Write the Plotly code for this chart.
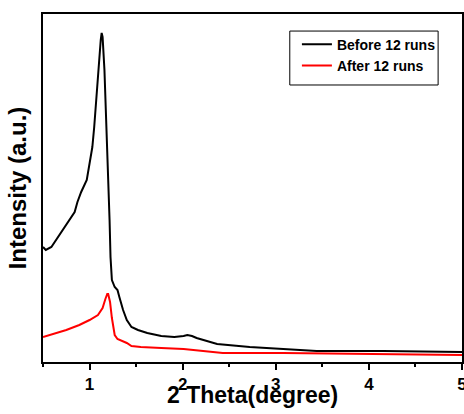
import plotly.graph_objects as go

# Black curve: before 12 runs
before_x = [0.50, 0.53, 0.59, 0.64, 0.70, 0.75, 0.80, 0.84, 0.87, 0.91, 0.97, 1.00, 1.03, 1.05,
            1.07, 1.10, 1.12, 1.13, 1.14, 1.16, 1.18, 1.20, 1.215, 1.225, 1.24, 1.27, 1.30,
            1.32, 1.36, 1.40, 1.45, 1.52, 1.62, 1.77, 1.91, 2.01, 2.05, 2.10, 2.15, 2.37,
            2.72, 3.08, 3.44, 4.15, 5.00]
before_y = [115, 112, 115, 122, 130, 137, 145, 150, 160, 170, 182, 199, 215, 235,
            262, 292, 322, 329, 325, 292, 242, 192, 142, 105, 82, 75, 72,
            65, 52, 42, 35, 32, 29, 26, 25, 26, 27, 26, 24, 18,
            15, 13, 11, 11, 10]

# Red curve: after 12 runs
after_x = [0.50, 0.60, 0.75, 0.89, 1.00, 1.09, 1.14, 1.17, 1.19, 1.20, 1.22, 1.24, 1.27,
           1.30, 1.35, 1.40, 1.45, 1.55, 1.77, 2.01, 2.22, 2.43, 3.08, 3.80, 5.00]
after_y = [25, 28, 32, 37, 42, 47, 54, 63, 68, 68, 60, 44, 27,
           23, 21, 19, 16, 15, 14, 13, 11, 9, 9, 8, 7]

names = ["Before 12 runs", "After 12 runs"]
colors = ["#000000", "#ff0000"]
x_title = "2 Theta(degree)"
y_title = "Intensity (a.u.)"

fig = go.Figure()
fig.add_trace(go.Scatter(x=before_x, y=before_y, mode="lines", name=names[0],
                         line=dict(color=colors[0], width=2)))
fig.add_trace(go.Scatter(x=after_x, y=after_y, mode="lines", name=names[1],
                         line=dict(color=colors[1], width=2)))

font_family = "Liberation Sans, Arial, sans-serif"

fig.update_layout(
    width=464, height=414,
    margin=dict(l=43, r=2, t=14, b=52, autoexpand=False),
    paper_bgcolor="white", plot_bgcolor="white",
    showlegend=True,
    legend=dict(x=0.606, y=0.958, xanchor="left", yanchor="top",
                bgcolor="rgba(0,0,0,0)", borderwidth=0,
                font=dict(family=font_family, size=14, color="black", weight="bold"),
                tracegroupgap=0, itemwidth=30),
    shapes=[dict(type="rect", xref="paper", yref="paper",
                 x0=0.589, x1=0.943, y0=0.796, y1=0.951,
                 line=dict(color="black", width=1), fillcolor="rgba(0,0,0,0)")],
    annotations=[dict(text=x_title, xref="paper", yref="paper", x=0.5, y=-0.095,
                      xanchor="center", yanchor="middle", showarrow=False,
                      font=dict(family=font_family, size=23, color="black", weight="bold"))],
)

fig.update_xaxes(
    range=[0.5, 5], tick0=1, dtick=1, automargin=False,
    showline=True, linecolor="black", linewidth=2, mirror=True,
    ticks="outside", ticklen=6, tickwidth=2, tickcolor="black",
    minor=dict(ticks="outside", ticklen=3, tickwidth=2, tickcolor="black", dtick=0.5, tick0=0.5),
    showgrid=False, zeroline=False, ticklabeloverflow="allow",
    tickfont=dict(family=font_family, size=17, color="black", weight="bold"),
)
fig.update_yaxes(
    range=[0, 348], automargin=False,
    showline=True, linecolor="black", linewidth=2, mirror=True,
    ticks="", showticklabels=False, showgrid=False, zeroline=False,
    title=dict(text=y_title, standoff=8,
               font=dict(family=font_family, size=24, color="black", weight="bold")),
)

fig.write_html("out.html")
